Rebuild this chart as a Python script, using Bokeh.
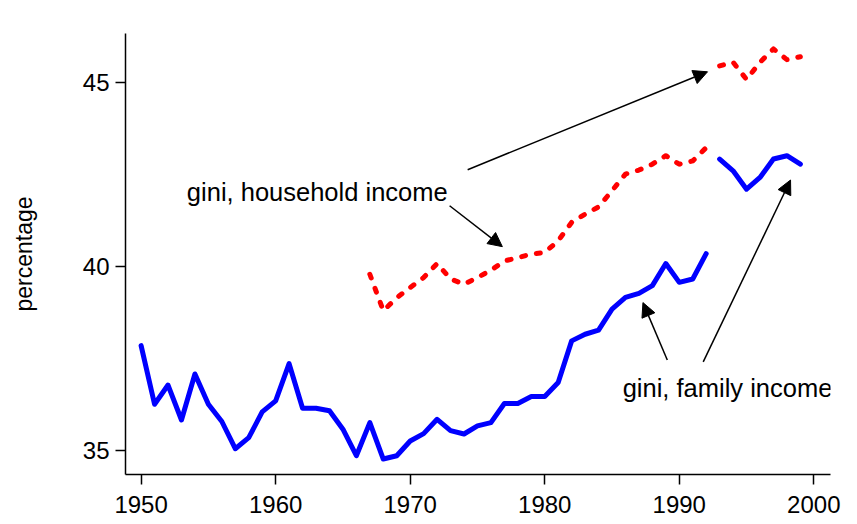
from bokeh.plotting import figure
from bokeh.models import Range1d, Arrow, NormalHead, Label, FixedTicker
from bokeh.embed import file_html
from bokeh.resources import INLINE

# ---- data ----
family_years_a = list(range(1950, 1993))
family_gini_a = [37.85, 36.26, 36.78, 35.83, 37.08, 36.26, 35.79, 35.05, 35.35, 36.05,
                 36.35, 37.36, 36.15, 36.15, 36.08, 35.58, 34.86, 35.76, 34.77, 34.86,
                 35.26, 35.46, 35.85, 35.54, 35.45, 35.67, 35.76, 36.28, 36.28, 36.47,
                 36.47, 36.85, 37.98, 38.16, 38.27, 38.84, 39.16, 39.27, 39.48, 40.08,
                 39.57, 39.66, 40.35]
family_years_b = list(range(1993, 2000))
family_gini_b = [42.92, 42.60, 42.10, 42.42, 42.92, 43.01, 42.78]

household_years_a = list(range(1967, 1993))
household_gini_a = [39.79, 38.80, 39.15, 39.43, 39.70, 40.08, 39.66, 39.52, 39.70, 39.90,
                    40.15, 40.24, 40.34, 40.38, 40.70, 41.20, 41.42, 41.62, 42.06, 42.51,
                    42.62, 42.78, 43.01, 42.78, 42.87, 43.23]
household_years_b = list(range(1993, 2000))
household_gini_b = [45.45, 45.55, 45.08, 45.55, 45.91, 45.62, 45.70]

x_ticks = [1950, 1960, 1970, 1980, 1990, 2000]
y_ticks = [35, 40, 45]

label_household = "gini, household income"
label_family = "gini, family income"
y_title = "percentage"

FONT = "Liberation Sans"

p = figure(width=841, height=524, output_backend="svg", toolbar_location=None,
           x_range=Range1d(1948.84, 2001.24), y_range=Range1d(34.35, 46.33),
           min_border_left=125, min_border_top=33, min_border_right=11, min_border_bottom=50)
p.outline_line_color = None
p.grid.visible = False
p.background_fill_color = "white"
p.border_fill_color = "white"

for ax in (p.xaxis[0], p.yaxis[0]):
    ax.axis_line_color = "black"
    ax.axis_line_width = 1.5
    ax.major_tick_line_color = "black"
    ax.major_tick_line_width = 1.5
    ax.major_tick_out = 10
    ax.major_tick_in = 0
    ax.minor_tick_line_color = None
    ax.major_label_text_font = FONT
    ax.major_label_text_font_size = "24px"
    ax.major_label_text_color = "black"

p.xaxis.ticker = FixedTicker(ticks=x_ticks)
p.yaxis.ticker = FixedTicker(ticks=y_ticks)
p.xaxis.major_label_standoff = 11
p.yaxis.major_label_standoff = 6

p.yaxis.axis_label = y_title
p.yaxis.axis_label_text_font = FONT
p.yaxis.axis_label_text_font_size = "23px"
p.yaxis.axis_label_text_font_style = "normal"
p.yaxis.axis_label_text_color = "black"
p.yaxis.axis_label_standoff = 43

# family income (solid blue)
p.line(family_years_a, family_gini_a, line_color="#0000ff", line_width=5, line_join="round", line_cap="round")
p.line(family_years_b, family_gini_b, line_color="#0000ff", line_width=5, line_join="round", line_cap="round")

# household income (dotted red)
p.line(household_years_a, household_gini_a, line_color="#ff0000", line_width=5,
       line_dash="4 11", line_cap="round", line_join="round")
p.line(household_years_b, household_gini_b, line_color="#ff0000", line_width=5,
       line_dash="4 11", line_cap="round", line_join="round")

# annotations
p.add_layout(Label(x=1953.40, y=42.03, text=label_household, text_font=FONT,
                   text_font_size="25.5px", text_color="black", text_baseline="alphabetic"))
p.add_layout(Label(x=1985.79, y=36.70, text=label_family, text_font=FONT,
                   text_font_size="25.5px", text_color="black", text_baseline="alphabetic"))

arrows = [
    (1974.27, 42.63, 1992.10, 45.29),
    (1972.93, 41.65, 1976.85, 40.54),
    (1989.11, 37.46, 1987.30, 39.02),
    (1991.78, 37.41, 1998.27, 42.35),
]
for xs, ys, xe, ye in arrows:
    p.add_layout(Arrow(end=NormalHead(size=14, fill_color="black", line_color="black", line_width=1),
                       x_start=xs, y_start=ys, x_end=xe, y_end=ye,
                       line_color="black", line_width=1.5))

open("out.html", "w").write(file_html(p, INLINE))
